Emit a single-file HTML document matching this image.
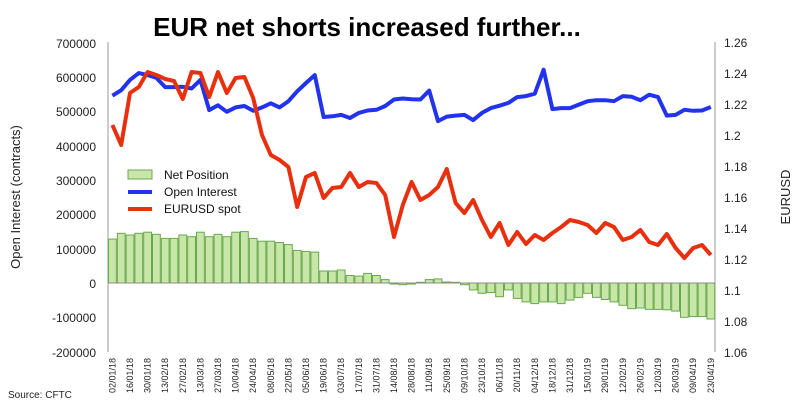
<!DOCTYPE html>
<html><head><meta charset="utf-8"><style>
body{margin:0;background:#fff;}
svg{display:block;font-family:"Liberation Sans",sans-serif;}
</style></head><body>
<svg id="c" width="798" height="409" viewBox="0 0 798 409" xmlns="http://www.w3.org/2000/svg">
<text x="367" y="36" text-anchor="middle" font-size="26" font-weight="bold" fill="#000">EUR net shorts increased further...</text>
<g font-size="12" fill="#222" text-anchor="end">
<text x="96" y="48">700000</text><text x="96" y="82">600000</text><text x="96" y="116">500000</text>
<text x="96" y="151">400000</text><text x="96" y="185">300000</text><text x="96" y="219">200000</text>
<text x="96" y="254">100000</text><text x="96" y="288">0</text><text x="96" y="322">-100000</text>
<text x="96" y="357">-200000</text>
</g>
<g font-size="12" fill="#222">
<text x="724" y="47">1.26</text><text x="724" y="78">1.24</text><text x="724" y="109">1.22</text>
<text x="724" y="140">1.2</text><text x="724" y="171">1.18</text><text x="724" y="202">1.16</text>
<text x="724" y="233">1.14</text><text x="724" y="264">1.12</text><text x="724" y="295">1.1</text>
<text x="724" y="326">1.08</text><text x="724" y="357">1.06</text>
</g>
<text transform="translate(20,197) rotate(-90)" text-anchor="middle" font-size="13" fill="#222">Open Interest (contracts)</text>
<text transform="translate(790,197) rotate(-90)" text-anchor="middle" font-size="13" fill="#222">EURUSD</text>
<text x="8" y="398" font-size="10" fill="#222">Source: CFTC</text>
<g stroke="#999" stroke-width="1">
<line x1="108" y1="42" x2="108" y2="352"/><line x1="715" y1="42" x2="715" y2="352"/>
</g>
<g id="bars"></g>
<line x1="108" y1="283" x2="715" y2="283" stroke="#8a8a8a" stroke-width="1"/>
<polyline id="oi" fill="none" stroke="#2233ee" stroke-width="4" stroke-linejoin="round"/>
<polyline id="fx" fill="none" stroke="#e8300f" stroke-width="4" stroke-linejoin="round"/>
<g font-size="9" fill="#222" text-anchor="end" id="xl">
<text>02/01/18</text><text>16/01/18</text><text>30/01/18</text><text>13/02/18</text><text>27/02/18</text>
<text>13/03/18</text><text>27/03/18</text><text>10/04/18</text><text>24/04/18</text><text>08/05/18</text>
<text>22/05/18</text><text>05/06/18</text><text>19/06/18</text><text>03/07/18</text><text>17/07/18</text>
<text>31/07/18</text><text>14/08/18</text><text>28/08/18</text><text>11/09/18</text><text>25/09/18</text>
<text>09/10/18</text><text>23/10/18</text><text>06/11/18</text><text>20/11/18</text><text>04/12/18</text>
<text>18/12/18</text><text>31/12/18</text><text>15/01/19</text><text>29/01/19</text><text>12/02/19</text>
<text>26/02/19</text><text>12/03/19</text><text>26/03/19</text><text>09/04/19</text><text>23/04/19</text>
</g>
<rect x="128" y="170" width="24" height="9" fill="#c8e6a8" stroke="#6aa84f"/>
<line x1="128" y1="192" x2="152" y2="192" stroke="#2233ee" stroke-width="4"/>
<line x1="128" y1="209" x2="152" y2="209" stroke="#e8300f" stroke-width="4"/>
<g font-size="12" fill="#111"><text x="164" y="179">Net Position</text><text x="164" y="196">Open Interest</text><text x="164" y="213">EURUSD spot</text></g>
</svg>
<script>
var np=[128,145,140,145,148,142,130,130,140,135,148,135,142,135,148,150,130,122,122,118,112,95,92,90,35,35,38,22,20,28,22,10,-3,-5,-3,2,10,12,3,2,-5,-20,-30,-28,-40,-20,-45,-55,-60,-55,-55,-60,-50,-42,-30,-42,-48,-55,-65,-75,-73,-77,-77,-78,-82,-100,-98,-98,-105];
var oi=[546,562,592,612,606,598,571,571,572,567,592,504,518,499,512,516,502,512,524,512,530,559,583,606,484,486,490,481,496,503,505,516,535,538,536,535,561,472,485,488,490,475,496,510,517,525,542,545,552,622,507,510,510,520,530,533,533,530,545,543,533,549,542,488,490,505,502,503,513];
var fx=[125,145,93,87,72,75,79,81,99,72,73,97,72,93,78,77,98,135,155,160,167,207,177,173,198,188,187,173,187,182,183,195,237,205,182,200,195,187,169,203,213,200,220,237,223,245,232,244,235,240,233,227,220,222,225,233,223,227,240,237,230,242,245,234,248,258,248,245,255];
var ns="http://www.w3.org/2000/svg",g=document.getElementById("bars"),w=8.8;
function X(i){return 112.4+w*i;}
np.forEach(function(v,i){var y=283-v*0.343,r=document.createElementNS(ns,"rect");
r.setAttribute("x",(108+w*i+0.5).toFixed(1));r.setAttribute("width",(w-1).toFixed(1));
r.setAttribute("y",Math.min(y,283).toFixed(1));r.setAttribute("height",Math.max(Math.abs(283-y),0.5).toFixed(1));
r.setAttribute("fill","#c8e6a8");r.setAttribute("stroke","#6aa84f");r.setAttribute("stroke-width","1");g.appendChild(r);});
document.getElementById("oi").setAttribute("points",oi.map(function(v,i){return X(i).toFixed(1)+","+(283-v*0.343).toFixed(1);}).join(" "));
document.getElementById("fx").setAttribute("points",fx.map(function(v,i){return X(i).toFixed(1)+","+v;}).join(" "));
var t=document.getElementById("xl").getElementsByTagName("text");
for(var k=0;k<t.length;k++){var x=X(2*k)+3;t[k].setAttribute("transform","translate("+x.toFixed(1)+",358) rotate(-90)");}
</script>
</body></html>
